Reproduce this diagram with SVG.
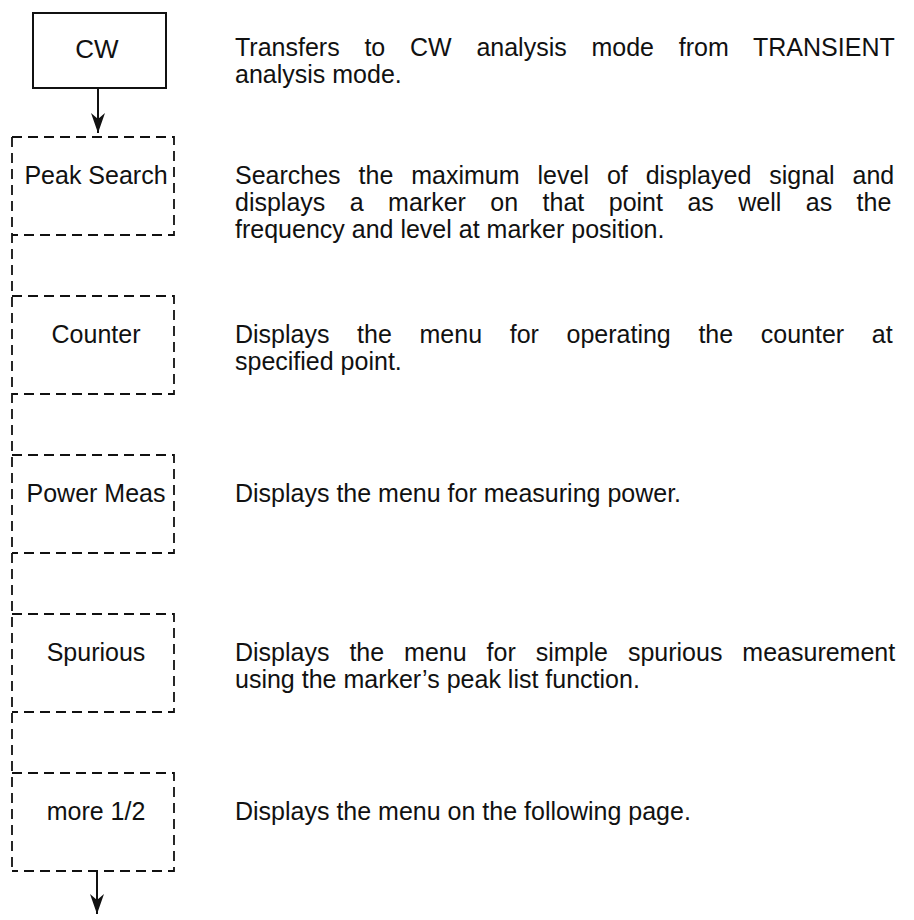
<svg xmlns="http://www.w3.org/2000/svg" width="914" height="920" viewBox="0 0 914 920">
<defs>
<marker id="arr" viewBox="0 0 20 14" refX="20" refY="7" markerWidth="20" markerHeight="14" markerUnits="userSpaceOnUse" orient="auto">
<path d="M0,0 L20,7 L0,14 L6,7 z" fill="#111"/>
</marker>
</defs>
<style>
.lbl{font-family:"Liberation Sans",Arial,sans-serif;font-size:25px;fill:#111;text-anchor:middle;dominant-baseline:central}
.desc{font-family:"Liberation Sans",Arial,sans-serif;font-size:25px;fill:#111}
.solid{fill:none;stroke:#111;stroke-width:2}
.dash{fill:none;stroke:#111;stroke-width:1.8;stroke-dasharray:10 6}
.conn{fill:none;stroke:#111;stroke-width:2}
</style>
<rect width="914" height="920" fill="#fff"/>
<g id="connectors">
<line class="conn" x1="98" y1="88" x2="98" y2="133" marker-end="url(#arr)"/>
<line class="dash" x1="12" y1="137" x2="12" y2="871"/>
<line class="conn" x1="97" y1="871" x2="97" y2="914" marker-end="url(#arr)"/>
</g>
<g id="node-cw">
<rect class="solid" x="33" y="13" width="133" height="75"/>
<text class="lbl" x="97" y="49" style="font-size:26px">CW</text>
</g>
<g id="node-peak">
<path class="dash" d="M12,137 H174 V235 H12"/>
<text class="lbl" x="96" y="175">Peak Search</text>
</g>
<g id="node-counter">
<path class="dash" d="M12,296 H174 V394 H12"/>
<text class="lbl" x="96" y="334">Counter</text>
</g>
<g id="node-power">
<path class="dash" d="M12,455 H174 V553 H12"/>
<text class="lbl" x="96" y="493">Power Meas</text>
</g>
<g id="node-spurious">
<path class="dash" d="M12,614 H174 V712 H12"/>
<text class="lbl" x="96" y="652">Spurious</text>
</g>
<g id="node-more">
<path class="dash" d="M12,773 H174 V871 H12"/>
<text class="lbl" x="96" y="811">more 1/2</text>
</g>
<g id="descriptions">
<text class="desc" x="235" y="56" word-spacing="17.8">Transfers to CW analysis mode from TRANSIENT</text>
<text class="desc" x="235" y="83">analysis mode.</text>
<text class="desc" x="235" y="184" word-spacing="11">Searches the maximum level of displayed signal and</text>
<text class="desc" x="235" y="211" word-spacing="17.5">displays a marker on that point as well as the</text>
<text class="desc" x="235" y="238">frequency and level at marker position.</text>
<text class="desc" x="235" y="343" word-spacing="20.7">Displays the menu for operating the counter at</text>
<text class="desc" x="235" y="370">specified point.</text>
<text class="desc" x="235" y="502">Displays the menu for measuring power.</text>
<text class="desc" x="235" y="661" word-spacing="13">Displays the menu for simple spurious measurement</text>
<text class="desc" x="235" y="688">using the marker’s peak list function.</text>
<text class="desc" x="235" y="820">Displays the menu on the following page.</text>
</g>
</svg>
